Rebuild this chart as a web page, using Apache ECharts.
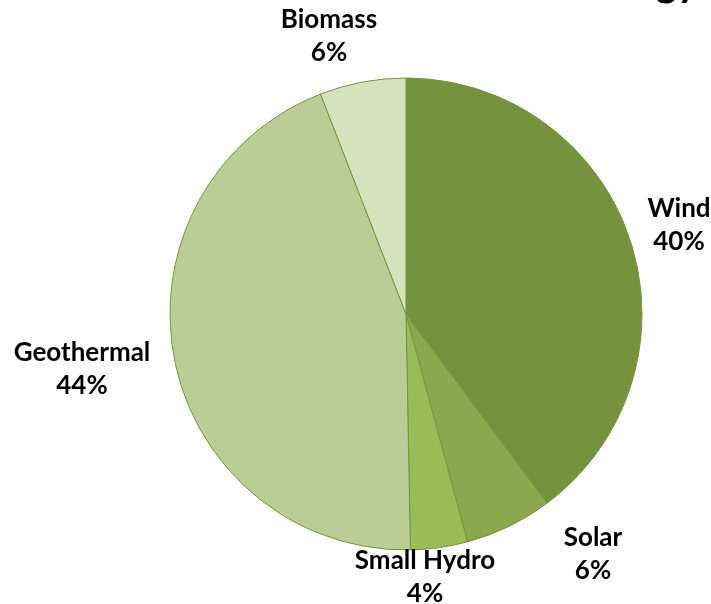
<!DOCTYPE html>
<html>
<head>
<meta charset="utf-8">
<script src="https://cdn.jsdelivr.net/npm/echarts@6/dist/echarts.min.js"></script>
<style>
  html, body { margin: 0; padding: 0; background: #fff; }
  #chart { width: 711px; height: 604px; }
</style>
</head>
<body>
<div id="chart"></div>
<script>
  // 数据
  const sources = ['Wind', 'Solar', 'Small Hydro', 'Geothermal', 'Biomass'];
  const shares = [39.8, 6.0, 3.9, 44.4, 5.9];
  const sliceColors = ['#77923f', '#8ba84f', '#9bbb59', '#bbcd97', '#d6e3bf'];

  // label centers (Excel "best fit" placement)
  const labelPos = {
    'Wind': [679, 225],
    'Solar': [593, 554],
    'Small Hydro': [425, 577],
    'Geothermal': [82, 369],
    'Biomass': [329, 36]
  };

  const chart = echarts.init(document.getElementById('chart'));

  const option = {
    animation: false,
    title: {
      text: 'Renewable Energy',
      right: 8,
      top: -42,
      textStyle: { fontFamily: 'Lato', fontWeight: 'bold', fontSize: 40, color: '#000' }
    },
    series: [{
      type: 'pie',
      center: [406, 314],
      radius: 236,
      startAngle: 90,
      clockwise: true,
      data: sources.map((name, i) => ({
        name: name,
        value: shares[i],
        itemStyle: { color: sliceColors[i] }
      })),
      itemStyle: { borderColor: '#77933c', borderWidth: 1 },
      label: {
        show: true,
        position: 'outside',
        formatter: (p) => p.name + '\n' + Math.round(p.percent) + '%',
        fontFamily: 'Lato',
        fontWeight: 'bold',
        fontSize: 26,
        lineHeight: 33,
        color: '#000',
        align: 'center',
        overflow: 'none',
        edgeDistance: 0
      },
      labelLine: { show: false },
      labelLayout: (params) => {
        const pos = labelPos[sources[params.dataIndex]];
        return { x: pos[0], y: pos[1], align: 'center', verticalAlign: 'middle', width: 220 };
      }
    }]
  };

  chart.setOption(option);
</script>
</body>
</html>
